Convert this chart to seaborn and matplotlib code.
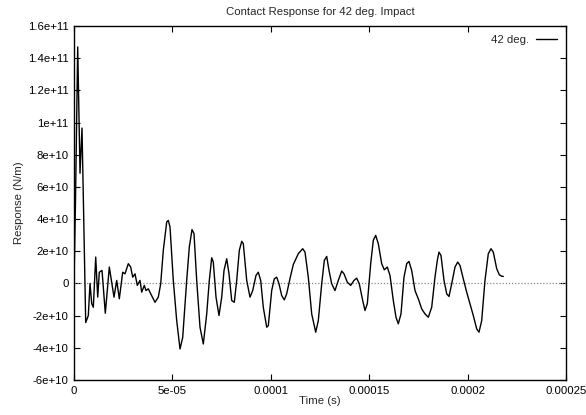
import numpy as np
import pandas as pd
import matplotlib
matplotlib.use("Agg")
import matplotlib.pyplot as plt
import seaborn as sns

# time in microseconds, response in units of 1e10 N/m
time_us = [0.0, 0.76, 1.88, 3.05, 4.06, 5.94, 7.27, 8.13, 8.99, 9.81, 11.03, 12.04, 12.85, 14.23,
           15.90, 17.94, 20.32, 21.70, 23.02, 24.74, 25.91, 27.59, 28.81, 29.83, 30.99, 32.16,
           33.53, 34.40, 35.72, 36.58, 37.75, 38.97, 41.16, 42.83, 44.05, 45.37, 47.10, 47.91,
           48.78, 50.45, 52.18, 53.86, 55.23, 57.26, 58.58, 59.96, 60.97, 62.34, 64.02, 65.70,
           67.43, 68.75, 69.97, 70.78, 72.15, 73.67, 75.05, 76.22, 77.59, 78.76, 80.13, 81.45,
           82.67, 84.00, 85.22, 86.03, 87.75, 89.43, 90.80, 92.47, 93.64, 94.86, 96.18, 97.91,
           98.73, 100.45, 101.77, 102.99, 104.16, 105.53, 106.85, 108.07, 109.75, 111.43, 113.97,
           116.20, 117.37, 119.05, 120.77, 122.81, 124.13, 125.86, 127.18, 128.40, 129.57, 130.94,
           132.61, 134.29, 136.02, 137.19, 138.86, 140.59, 142.27, 143.64, 144.96, 146.69, 147.86,
           149.03, 150.75, 152.07, 153.29, 154.62, 156.34, 157.66, 159.19, 160.56, 162.24, 163.61,
           164.78, 166.15, 167.67, 169.05, 170.21, 171.58, 173.26, 174.94, 176.67, 178.34, 180.02,
           181.75, 183.42, 184.59, 185.46, 186.47, 188.00, 189.37, 190.54, 191.91, 193.59, 194.96,
           196.13, 197.80, 199.53, 201.21, 202.88, 204.61, 205.78, 207.15, 208.83, 210.51, 211.88,
           213.05, 214.78, 216.10, 217.32, 218.13]
response_e10 = [0.0, 5.17, 14.7, 6.85, 9.66, -2.43, -1.99, 0.0, -1.25, -1.48, 1.64, -0.85, 0.70, 0.81,
                -1.85, 1.02, -0.85, 0.19, -0.95, 0.70, 0.60, 1.23, 1.02, 0.39, 0.60, -0.12,
                0.19, -0.54, -0.12, -0.44, -0.33, -0.64, -1.17, -0.85, -0.02, 2.06, 3.82, 3.92,
                3.51, 0.19, -2.31, -4.07, -3.35, 0.19, 2.26, 3.35, 3.10, 0.19, -2.72, -3.76,
                -1.89, 0.19, 1.60, 1.33, -0.85, -1.99, -0.85, 0.81, 1.54, 0.60, -1.06, -1.17,
                0.19, 2.06, 2.62, 2.47, 0.19, -0.85, -0.44, 0.50, 0.70, 0.19, -1.48, -2.72,
                -2.62, -0.44, 0.29, 0.39, -0.02, -0.75, -1.02, -0.64, 0.31, 1.18, 1.85,
                2.16, 1.95, 0.39, -1.89, -3.03, -2.31, -0.02, 1.43, 1.68, 0.81, -0.02,
                -0.44, 0.19, 0.77, 0.60, 0.08, -0.12, 0.19, 0.33, -0.02, -1.06, -1.68,
                -1.26, 1.23, 2.68, 2.99, 2.47, 1.23, 0.85, 1.02, 0.50, -1.06, -2.10,
                -2.51, -1.89, 0.39, 1.23, 1.37, 0.81, -0.44, -0.95, -1.58, -1.89, -2.10,
                -1.48, 0.39, 1.43, 1.95, 1.74, 0.19, -0.64, -0.81, -0.02, 1.02, 1.33,
                1.12, 0.29, -0.54, -1.26, -1.99, -2.82, -3.03, -2.31, 0.19, 1.85, 2.16,
                1.95, 0.92, 0.54, 0.45, 0.44]

series_label = "42 deg."
title = "Contact Response for 42 deg. Impact"
xlabel = "Time (s)"
ylabel = "Response (N/m)"
xticks = [0, 5e-05, 0.0001, 0.00015, 0.0002, 0.00025]
xtick_labels = ["0", "5e-05", "0.0001", "0.00015", "0.0002", "0.00025"]
yticks = [1.6e11, 1.4e11, 1.2e11, 1e11, 8e10, 6e10, 4e10, 2e10, 0, -2e10, -4e10, -6e10]
ytick_labels = ["1.6e+11", "1.4e+11", "1.2e+11", "1e+11", "8e+10", "6e+10", "4e+10",
                "2e+10", "0", "-2e+10", "-4e+10", "-6e+10"]

df = pd.DataFrame({"t": np.array(time_us) * 1e-6, "r": np.array(response_e10) * 1e10})

sns.set_style("ticks")
plt.rcParams['font.family'] = ['Liberation Sans', 'DejaVu Sans']
FS = 8.2

fig = plt.figure(figsize=(5.86, 4.15), dpi=100)
ax = fig.add_axes([0.1263, 0.0843, 0.8396, 0.853])

ax.axhline(0, color="#888888", lw=0.9, ls=(0, (1, 1.5)), zorder=1)
sns.lineplot(data=df, x="t", y="r", ax=ax, color="black", lw=1.0, sort=False,
             label=series_label, zorder=3)

ax.set_xlim(0, 0.00025)
ax.set_ylim(-6e10, 1.6e11)
ax.set_xticks(xticks)
ax.set_xticklabels(xtick_labels)
ax.set_yticks(yticks)
ax.set_yticklabels(ytick_labels)
ax.tick_params(direction="in", length=4, width=0.8, top=True, right=True,
               labelsize=FS, pad=4, colors="black")
for s in ax.spines.values():
    s.set_visible(True)
    s.set_linewidth(1.0)
    s.set_color("black")

ax.set_xlabel(xlabel, fontsize=FS, labelpad=0)
ax.set_ylabel(ylabel, fontsize=FS, labelpad=3)
ax.set_title(title, fontsize=FS, pad=8)

leg = ax.legend(loc="upper right", frameon=False, markerfirst=False, fontsize=FS,
                handlelength=1.8, handletextpad=0.6, borderaxespad=0.4)

fig.savefig("out.png", dpi=100)
